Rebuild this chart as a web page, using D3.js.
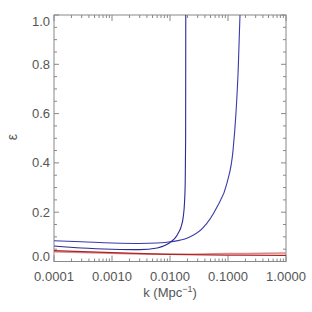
<!DOCTYPE html>
<html>
<head>
<meta charset="utf-8">
<script src="https://cdn.jsdelivr.net/npm/d3@7"></script>
<style>
  body { margin: 0; background: #fff; }
  text { font-family: "Liberation Sans", Arial, sans-serif; fill: #555; }
</style>
</head>
<body>
<svg id="chart" width="312" height="312"></svg>
<script>
// epsilon vs k
var kSharp   = [0.0001, 0.0003, 0.001, 0.003, 0.006, 0.0104, 0.0125, 0.0139, 0.0155, 0.0169, 0.0178, 0.0183, 0.0186, 0.0187]
var epsSharp = [0.063, 0.055, 0.050, 0.048, 0.055, 0.080, 0.098, 0.116, 0.140, 0.180, 0.240, 0.320, 0.500, 1.000]

var kSoft    = [0.0001, 0.0003, 0.001, 0.003, 0.006, 0.0104, 0.02, 0.037, 0.0646, 0.096, 0.122, 0.137, 0.150, 0.161]
var epsSoft  = [0.084, 0.080, 0.075, 0.073, 0.075, 0.080, 0.095, 0.136, 0.221, 0.318, 0.450, 0.600, 0.780, 1.000]

var kRed     = [0.0001, 0.001, 0.01, 0.1, 1.0]
var epsRed1  = [0.044, 0.036, 0.029, 0.026, 0.025]
var epsRed2  = [0.040, 0.033, 0.029, 0.032, 0.034]

var xTicks = [0.0001, 0.001, 0.01, 0.1, 1.0]
var xTickLabels = ["0.0001", "0.0010", "0.0100", "0.1000", "1.0000"]
var yTicks = [0, 0.2, 0.4, 0.6, 0.8, 1.0]

var svg = d3.select("#chart")
var pLeft = 54, pRight = 286, pTop = 15, pBottom = 261.5

var x = d3.scaleLog().domain([0.0001, 1]).range([pLeft, pRight])
var y = d3.scaleLinear().domain([0, 1]).range([pBottom, pTop])

// minor positions
var xMinor = []
for (var d = -4; d < 0; d++) {
  for (var m = 2; m < 10; m++) xMinor.push(m * Math.pow(10, d))
}
var yMinor = d3.range(0, 1.0001, 0.05).filter(function(v) { return Math.abs(v * 5 - Math.round(v * 5)) > 1e-6 })

var ax = svg.append("g").attr("stroke", "#888").attr("stroke-width", 1)
ax.append("rect").attr("x", pLeft).attr("y", pTop).attr("width", pRight - pLeft).attr("height", pBottom - pTop).attr("fill", "none")

// x ticks (bottom and top, pointing inward)
xTicks.forEach(function(t) {
  ax.append("line").attr("x1", x(t)).attr("x2", x(t)).attr("y1", pBottom).attr("y2", pBottom - 6)
  ax.append("line").attr("x1", x(t)).attr("x2", x(t)).attr("y1", pTop).attr("y2", pTop + 6)
})
xMinor.forEach(function(t) {
  ax.append("line").attr("x1", x(t)).attr("x2", x(t)).attr("y1", pBottom).attr("y2", pBottom - 3)
  ax.append("line").attr("x1", x(t)).attr("x2", x(t)).attr("y1", pTop).attr("y2", pTop + 3)
})
// y ticks (left and right)
yTicks.forEach(function(t) {
  ax.append("line").attr("x1", pLeft).attr("x2", pLeft + 5).attr("y1", y(t)).attr("y2", y(t))
  ax.append("line").attr("x1", pRight).attr("x2", pRight - 5).attr("y1", y(t)).attr("y2", y(t))
})
yMinor.forEach(function(t) {
  ax.append("line").attr("x1", pLeft).attr("x2", pLeft + 3).attr("y1", y(t)).attr("y2", y(t))
  ax.append("line").attr("x1", pRight).attr("x2", pRight - 3).attr("y1", y(t)).attr("y2", y(t))
})

// tick labels
xTicks.forEach(function(t, i) {
  svg.append("text").attr("x", x(t)).attr("y", 281).attr("text-anchor", "middle")
    .style("font-size", "13px").text(xTickLabels[i])
})
yTicks.forEach(function(t) {
  var yy = y(t)
  if (t == 1) yy += 6
  if (t == 0) yy -= 5
  svg.append("text").attr("x", 50).attr("y", yy).attr("text-anchor", "end")
    .attr("dominant-baseline", "central").style("font-size", "13px").text(d3.format(".1f")(t))
})

// axis titles
var xl = svg.append("text").attr("x", 170).attr("y", 297).attr("text-anchor", "middle").style("font-size", "13px")
xl.append("tspan").text("k (Mpc")
xl.append("tspan").attr("dy", -5).style("font-size", "9px").text("\u22121")
xl.append("tspan").attr("dy", 5).text(")")
svg.append("text").attr("transform", "translate(17,137) rotate(-90)").attr("text-anchor", "middle")
  .style("font-size", "14px").text("\u03b5")

// curves
var line = d3.line().x(function(d) { return x(d[0]) }).y(function(d) { return y(d[1]) }).curve(d3.curveMonotoneX)
var plot = svg.append("g")
plot.append("path").datum(d3.zip(kRed, epsRed2)).attr("d", line).attr("fill", "none").attr("stroke", "#d88a8a").attr("stroke-width", 1.5)
plot.append("path").datum(d3.zip(kRed, epsRed1)).attr("d", line).attr("fill", "none").attr("stroke", "#b22222").attr("stroke-width", 1.3)
plot.append("path").datum(d3.zip(kSoft, epsSoft)).attr("d", line).attr("fill", "none").attr("stroke", "#3a3aae").attr("stroke-width", 1.1)
plot.append("path").datum(d3.zip(kSharp, epsSharp)).attr("d", line).attr("fill", "none").attr("stroke", "#2a2a96").attr("stroke-width", 1.1)
</script>
</body>
</html>
